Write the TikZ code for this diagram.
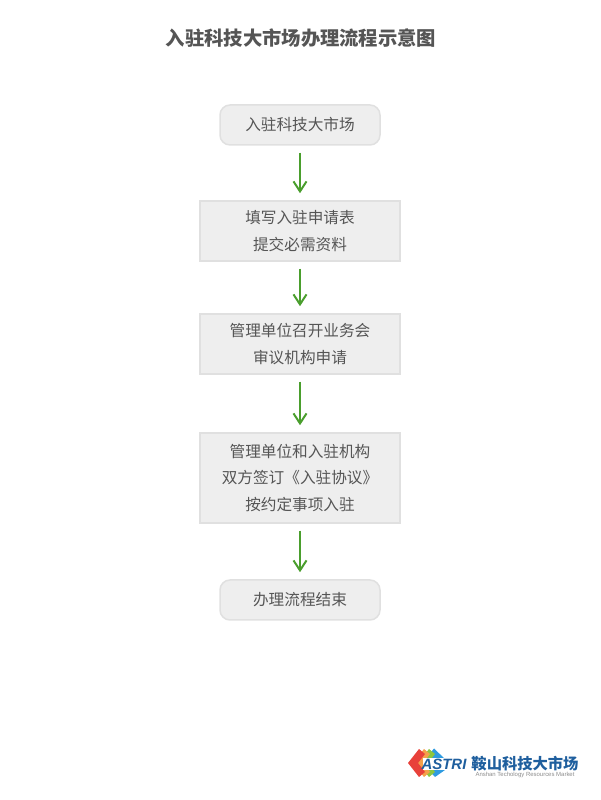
\documentclass[tikz,border=0pt]{standalone}
\usepackage{fontspec}
\setmainfont{Noto Sans CJK SC}
\newfontfamily\logolatin{Liberation Sans}
\usetikzlibrary{arrows.meta}
\definecolor{boxfill}{HTML}{EEEEEE}
\definecolor{boxline}{HTML}{E0E0E0}
\definecolor{boxtext}{HTML}{555555}
\definecolor{flowgreen}{HTML}{4A9E2D}
\definecolor{logoblue}{HTML}{1F5F9E}
\definecolor{logored}{HTML}{E8413A}
\definecolor{logoorange}{HTML}{F5A04A}
\definecolor{logogreen}{HTML}{8CC63F}
\definecolor{logosky}{HTML}{2F9BE0}
\tikzset{
	stepbox/.style={draw=boxline, fill=boxfill, line width=0.03cm, text=boxtext, font=\fontsize{8.9}{15.3}\selectfont, align=center, minimum width=4cm, inner sep=0pt},
	endbox/.style={stepbox, rounded corners=0.2cm, minimum width=3.2cm, minimum height=0.8cm},
	flow/.style={draw=flowgreen, line width=0.04cm, -{Straight Barb[length=0.2cm, width=0.26cm]}, shorten >=0.14cm, shorten <=0.14cm},
}

\begin{document}
\begin{tikzpicture}
	%%%%% START %%%%%
	\useasboundingbox (0, 0) rectangle (12, 16);

	\node[text=boxtext, font=\fontsize{11}{13}\selectfont\bfseries] (title) at (6.02, 15.24) {入驻科技大市场办理流程示意图};

	\node[endbox] (enter) at (6, 13.5) {入驻科技大市场};
	\node[stepbox, minimum height=1.2cm] (apply) at (6, 11.38) {填写入驻申请表\\提交必需资料};
	\node[stepbox, minimum height=1.2cm] (review) at (6, 9.12) {管理单位召开业务会\\审议机构申请};
	\node[stepbox, minimum height=1.8cm] (sign) at (6, 6.44) {管理单位和入驻机构\\双方签订《入驻协议》\\按约定事项入驻};
	\node[endbox] (finish) at (6, 4) {办理流程结束};

	\draw[flow] (enter) -- (apply);
	\draw[flow] (apply) -- (review);
	\draw[flow] (review) -- (sign);
	\draw[flow] (sign) -- (finish);

	% logo
	\fill[logosky] (8.44, 0.74) -- (8.68, 1.03) -- (8.9, 0.82) -- (8.78, 0.74) -- (8.9, 0.6) -- (8.7, 0.46) -- cycle;
	\foreach \shift/\band in {0.2/logogreen, 0.1/logoorange, 0/logored}{
		\fill[\band] (8.16+\shift, 0.74) -- (8.38+\shift, 1.02) -- (8.5+\shift, 0.92) -- (8.36+\shift, 0.74) -- (8.5+\shift, 0.56) -- (8.38+\shift, 0.46) -- cycle;
	}
	\fill[white] (8.46, 0.84) rectangle (9.34, 0.6);
	\node[text=logoblue, font=\logolatin\fontsize{8.5}{9}\selectfont\bfseries\itshape, inner sep=0pt] (astri) at (8.88, 0.71) {ASTRI};
	\node[text=logoblue, font=\fontsize{8.7}{10}\selectfont\bfseries, inner sep=0pt] (market) at (10.5, 0.73) {鞍山科技大市场};
	\node[text=black!45, font=\logolatin\fontsize{3.4}{4}\selectfont, inner sep=0pt] (marketen) at (10.5, 0.5) {Anshan Techology Resources Market};
	%%%%% END %%%%%
\end{tikzpicture}
\end{document}
